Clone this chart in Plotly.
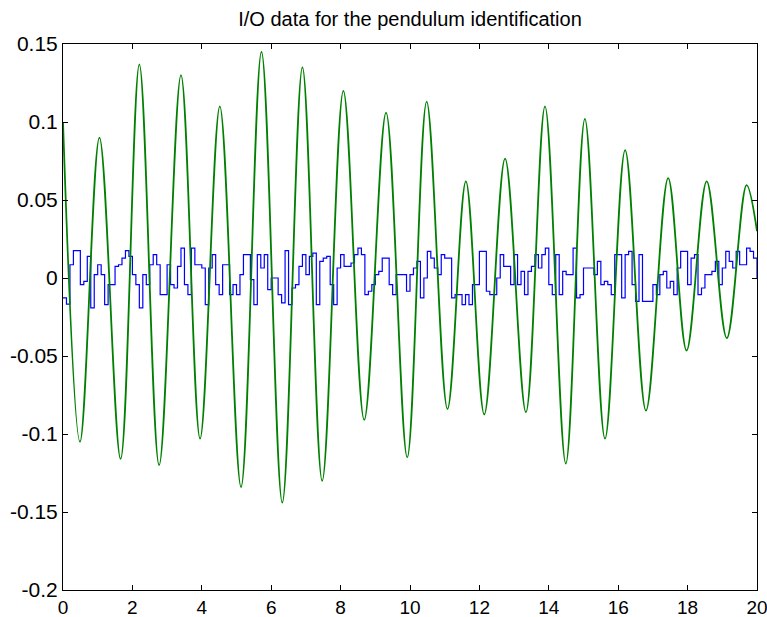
import plotly.graph_objects as go

# Output (green): extrema (time s, value)
y_t = [0.0, 0.49, 1.05, 1.66, 2.20, 2.77, 3.40, 3.95, 4.52, 5.13, 5.72, 6.32,
       6.90, 7.47, 8.08, 8.68, 9.31, 9.92, 10.48, 11.08, 11.61, 12.14, 12.74,
       13.34, 13.89, 14.49, 15.04, 15.62, 16.20, 16.80, 17.44, 17.97, 18.55,
       19.13, 19.70, 20.0]
y_val = [0.100, -0.105, 0.090, -0.116, 0.137, -0.120, 0.130, -0.103, 0.110,
         -0.134, 0.145, -0.144, 0.135, -0.130, 0.120, -0.091, 0.106, -0.115,
         0.113, -0.084, 0.062, -0.0875, 0.0765, -0.086, 0.110, -0.119, 0.102,
         -0.103, 0.082, -0.085, 0.064, -0.0465, 0.062, -0.0385, 0.0595, 0.030]

# Input (blue): piecewise-constant samples, one every 0.1 s
u_dt = 0.1
u_val = [
    -0.0128, -0.0167, 0.0085, 0.0175, 0.0175, -0.0043, -0.0021, 0.0139, -0.0192, 0.0021,
    0.0085, 0.0021, -0.0171, -0.0043, -0.0043, 0.0075, 0.0085, 0.0128, 0.0175, 0.0139,
    0.0021, -0.0043, -0.0192, 0.0021, -0.0043, 0.0085, 0.0150, 0.0085, -0.0107, -0.0107,
    0.0085, -0.0043, -0.0064, 0.0075, 0.0192, -0.0043, -0.0107, 0.0192, 0.0085, 0.0085,
    0.0064, -0.0171, 0.0064, 0.0150, -0.0043, -0.0107, 0.0085, 0.0085, -0.0107, -0.0043,
    -0.0107, 0.0021, 0.0150, 0.0150, -0.0011, -0.0171, 0.0150, 0.0064, 0.0150, -0.0075,
    0.0, 0.0, -0.0107, -0.0160, 0.0175, -0.0171, -0.0064, -0.0043, 0.0075, 0.0150,
    0.0021, 0.0139, 0.0160, -0.0171, 0.0107, 0.0128, 0.0139, -0.0043, -0.0171, 0.0064,
    0.0150, 0.0075, 0.0075, 0.0096, 0.0150, 0.0192, 0.0150, -0.0107, -0.0085, -0.0043,
    0.0021, 0.0043, 0.0128, 0.0128, -0.0043, -0.0107, 0.0021, 0.0021, 0.0021, -0.0085,
    0.0021, 0.0064, 0.0107, -0.0128, 0.0, 0.0171, 0.0128, 0.0064, 0.0021, 0.0150,
    0.0128, 0.0128, -0.0128, -0.0107, -0.0107, -0.0171, -0.0107, -0.0171, -0.0043, -0.0043,
    0.0171, 0.0171, -0.0085, -0.0107, -0.0107, 0.0, 0.0150, 0.0075, 0.0075, -0.0043,
    0.0150, -0.0043, 0.0043, -0.0107, 0.0043, 0.0075, 0.0150, 0.0064, 0.0150, 0.0192,
    -0.0043, -0.0107, 0.0150, -0.0107, 0.0043, 0.0021, 0.0021, 0.0192, -0.0128, -0.0107,
    0.0064, 0.0064, 0.0064, 0.0021, 0.0107, -0.0043, -0.0021, -0.0043, -0.0107, 0.0150,
    0.0150, -0.0128, 0.0150, 0.0171, -0.0043, -0.0150, 0.0150, -0.0150, -0.0150, -0.0150,
    -0.0043, -0.0107, 0.0021, 0.0043, -0.0064, -0.0021, -0.0107, 0.0064, 0.0171, 0.0171,
    -0.0043, 0.0128, 0.0150, -0.0107, -0.0064, 0.0021, 0.0021, 0.0043, 0.0107, -0.0043,
    0.0064, 0.0171, 0.0107, 0.0064, 0.0171, 0.0085, 0.0085, 0.0192, 0.0171, 0.0128,
    0.0,
]
u_t = [round(i * u_dt, 1) for i in range(len(u_val))]

x_ticks = [0, 2, 4, 6, 8, 10, 12, 14, 16, 18, 20]
x_labels = ["0", "2", "4", "6", "8", "10", "12", "14", "16", "18", "20"]
y_ticks = [0.15, 0.1, 0.05, 0, -0.05, -0.1, -0.15, -0.2]
y_labels = ["0.15", "0.1", "0.05", "0", "-0.05", "-0.1", "-0.15", "-0.2"]

title_text = "I/O data for the pendulum identification"

fig = go.Figure()
fig.add_trace(go.Scatter(x=u_t, y=u_val, mode="lines",
                         line=dict(color="#0000ff", width=1.2, shape="hv"),
                         showlegend=False))
fig.add_trace(go.Scatter(x=y_t, y=y_val, mode="lines",
                         line=dict(color="#008000", width=1.8, shape="spline", smoothing=1.0),
                         showlegend=False))

axis_common = dict(showline=True, linecolor="black", linewidth=1, mirror="ticks",
                   ticks="inside", ticklen=5, tickcolor="black", showgrid=False,
                   zeroline=False, automargin=False, ticklabeloverflow="allow")

font_fam = "Liberation Sans, Arial, sans-serif"

fig.update_layout(
    width=767, height=617,
    margin=dict(l=63, r=10, t=44, b=27, autoexpand=False),
    paper_bgcolor="white", plot_bgcolor="white",
    title=dict(text=title_text, x=0.5, xref="paper", y=0.97, yref="container",
               yanchor="middle", automargin=False,
               font=dict(family=font_fam, size=20, color="black")),
    xaxis=dict(range=[0, 20], tickvals=x_ticks, ticktext=x_labels,
               tickfont=dict(family=font_fam, size=19, color="black"), **axis_common),
    yaxis=dict(range=[-0.2, 0.15], tickvals=y_ticks, ticktext=y_labels,
               tickfont=dict(family=font_fam, size=21, color="black"), **axis_common),
)

fig.write_html("out.html",
               config={"displayModeBar": False},
               post_script="document.body.style.margin='0px';document.body.style.padding='0px';")
